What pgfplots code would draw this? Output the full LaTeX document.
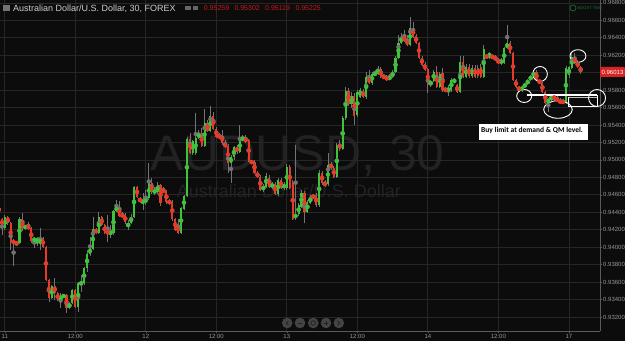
\documentclass[border=0pt]{standalone}
\usepackage{pgfplots}
\pgfplotsset{compat=1.18}
\usepackage{pgfplotstable}
\usepackage{fontspec}
\setmainfont{Liberation Sans}
\newfontfamily\carlito{Carlito}
\definecolor{bg}{RGB}{12,12,12}
\definecolor{gridc}{RGB}{38,38,38}
\definecolor{axc}{RGB}{90,90,90}
\definecolor{lab}{RGB}{150,150,150}
\definecolor{up}{RGB}{62,196,58}
\definecolor{dn}{RGB}{232,58,38}
\definecolor{wick}{RGB}{115,115,115}
\definecolor{wm}{RGB}{34,34,34}
\definecolor{ttl}{RGB}{205,205,205}
\definecolor{ohlc}{RGB}{205,25,25}
\definecolor{pricebox}{RGB}{215,35,35}
\definecolor{btn}{RGB}{68,68,68}
\definecolor{btnin}{RGB}{35,35,35}
\definecolor{boost}{RGB}{30,120,60}

\pgfplotstableread{
k o h l c
-2 0.94541 0.94564 0.94300 0.94323
-1 0.94323 0.94335 0.94140 0.94243
0 0.94220 0.94369 0.94197 0.94346
1 0.94346 0.94357 0.94254 0.94277
2 0.94277 0.94289 0.93968 0.94060
3 0.94071 0.94094 0.93784 0.94048
4 0.94060 0.94071 0.94014 0.94037
5 0.94048 0.94346 0.94037 0.94323
6 0.94323 0.94392 0.94186 0.94209
7 0.94220 0.94254 0.94209 0.94243
8 0.94243 0.94289 0.94197 0.94220
9 0.94220 0.94231 0.94048 0.94071
10 0.94071 0.94117 0.93991 0.94105
11 0.94037 0.94117 0.94014 0.94105
12 0.94037 0.94220 0.93968 0.94105
13 0.94105 0.94117 0.93991 0.94002
14 0.94002 0.94014 0.93613 0.93624
15 0.93624 0.93635 0.93372 0.93418
16 0.93418 0.93567 0.93406 0.93555
17 0.93555 0.93647 0.93395 0.93475
18 0.93475 0.93486 0.93383 0.93395
19 0.93395 0.93475 0.93303 0.93441
20 0.93429 0.93464 0.93418 0.93452
21 0.93452 0.93464 0.93246 0.93303
22 0.93303 0.93372 0.93292 0.93360
23 0.93360 0.93521 0.93349 0.93509
24 0.93509 0.93521 0.93303 0.93315
25 0.93315 0.93601 0.93257 0.93590
26 0.93578 0.93681 0.93486 0.93601
27 0.93590 0.93773 0.93567 0.93762
28 0.93762 0.93968 0.93716 0.93922
29 0.93922 0.94117 0.93899 0.93991
30 0.93979 0.94346 0.93968 0.94209
31 0.94209 0.94220 0.94151 0.94163
32 0.94163 0.94403 0.94151 0.94346
33 0.94346 0.94357 0.94243 0.94254
34 0.94254 0.94266 0.94151 0.94163
35 0.94174 0.94369 0.94060 0.94163
36 0.94163 0.94254 0.94105 0.94163
37 0.94163 0.94426 0.94140 0.94415
38 0.94415 0.94541 0.94403 0.94461
39 0.94461 0.94529 0.94346 0.94357
40 0.94369 0.94403 0.94335 0.94357
41 0.94369 0.94392 0.94266 0.94289
42 0.94231 0.94312 0.94197 0.94277
43 0.94277 0.94380 0.94266 0.94346
44 0.94346 0.94701 0.94335 0.94690
45 0.94690 0.94701 0.94564 0.94575
46 0.94564 0.94575 0.94506 0.94518
47 0.94518 0.94621 0.94426 0.94529
48 0.94529 0.94655 0.94483 0.94541
49 0.94564 0.94965 0.94541 0.94736
50 0.94736 0.94793 0.94610 0.94632
51 0.94621 0.94690 0.94598 0.94655
52 0.94632 0.94747 0.94610 0.94713
53 0.94713 0.94724 0.94472 0.94506
54 0.94655 0.94690 0.94621 0.94632
55 0.94644 0.94655 0.94495 0.94518
56 0.94529 0.94552 0.94483 0.94506
57 0.94518 0.94541 0.94300 0.94323
58 0.94323 0.94335 0.94186 0.94197
59 0.94254 0.94323 0.94151 0.94163
60 0.94163 0.94461 0.94151 0.94449
61 0.94438 0.94598 0.94426 0.94587
62 0.94587 0.95263 0.94575 0.95240
63 0.95240 0.95309 0.95068 0.95080
64 0.95080 0.95228 0.95057 0.95217
65 0.95080 0.95538 0.95057 0.95251
66 0.95251 0.95343 0.95240 0.95309
67 0.95309 0.95366 0.95148 0.95160
68 0.95160 0.95584 0.95148 0.95423
69 0.95423 0.95458 0.95320 0.95332
70 0.95332 0.95618 0.95320 0.95503
71 0.95503 0.95549 0.95343 0.95355
72 0.95355 0.95377 0.95251 0.95263
73 0.95286 0.95309 0.95240 0.95251
74 0.95286 0.95343 0.95171 0.95194
75 0.95194 0.95228 0.95137 0.95148
76 0.95160 0.95183 0.94850 0.94965
77 0.94965 0.95057 0.94736 0.95034
78 0.95034 0.95160 0.94999 0.95148
79 0.95148 0.95171 0.95068 0.95091
80 0.95091 0.95400 0.95080 0.95240
81 0.95228 0.95286 0.95217 0.95251
82 0.95251 0.95286 0.95194 0.95206
83 0.95228 0.95240 0.94976 0.94988
84 0.94988 0.94999 0.94953 0.94965
85 0.94976 0.94999 0.94839 0.94850
86 0.94850 0.94873 0.94793 0.94804
87 0.94804 0.94827 0.94644 0.94655
88 0.94655 0.94724 0.94632 0.94701
89 0.94690 0.94850 0.94678 0.94816
90 0.94793 0.94827 0.94678 0.94690
91 0.94690 0.94747 0.94667 0.94724
92 0.94724 0.94747 0.94598 0.94610
93 0.94610 0.94793 0.94587 0.94770
94 0.94770 0.94793 0.94667 0.94678
95 0.94678 0.94747 0.94655 0.94724
96 0.94678 0.94953 0.94655 0.94919
97 0.94919 0.94942 0.94667 0.94678
98 0.94747 0.94770 0.94312 0.94323
99 0.94335 0.95171 0.94312 0.94380
100 0.94380 0.94506 0.94357 0.94483
101 0.94461 0.94655 0.94449 0.94621
102 0.94621 0.94644 0.94277 0.94403
103 0.94403 0.94541 0.94392 0.94518
104 0.94506 0.94598 0.94495 0.94575
105 0.94587 0.94610 0.94552 0.94575
106 0.94598 0.94621 0.94461 0.94483
107 0.94483 0.94885 0.94461 0.94850
108 0.94850 0.94873 0.94713 0.94736
109 0.94736 0.94770 0.94690 0.94713
110 0.94724 0.95080 0.94701 0.94942
111 0.94953 0.94976 0.94885 0.94908
112 0.94908 0.94930 0.94793 0.94804
113 0.94804 0.95194 0.94793 0.95171
114 0.95183 0.95228 0.95102 0.95125
115 0.95125 0.95503 0.95114 0.95481
116 0.95481 0.95836 0.95458 0.95790
117 0.95790 0.95824 0.95618 0.95641
118 0.95641 0.95779 0.95595 0.95733
119 0.95733 0.95767 0.95400 0.95503
120 0.95515 0.95802 0.95492 0.95779
121 0.95721 0.95824 0.95710 0.95802
122 0.95790 0.95813 0.95710 0.95721
123 0.95721 0.96008 0.95698 0.95951
124 0.95951 0.96031 0.95870 0.95882
125 0.95882 0.96008 0.95859 0.95985
126 0.95973 0.96031 0.95962 0.95996
127 0.95985 0.96077 0.95973 0.96042
128 0.96042 0.96065 0.95939 0.95951
129 0.95962 0.95985 0.95928 0.95939
130 0.95951 0.95973 0.95905 0.95916
131 0.95928 0.95985 0.95916 0.95951
132 0.95951 0.96031 0.95939 0.96008
133 0.96008 0.96191 0.95996 0.96168
134 0.96168 0.96432 0.96157 0.96340
135 0.96340 0.96455 0.96329 0.96409
136 0.96420 0.96489 0.96352 0.96363
137 0.96375 0.96432 0.96306 0.96317
138 0.96317 0.96638 0.96306 0.96512
139 0.96512 0.96581 0.96397 0.96409
140 0.96420 0.96443 0.96329 0.96340
141 0.96340 0.96352 0.96157 0.96168
142 0.96168 0.96191 0.96077 0.96088
143 0.96100 0.96122 0.96019 0.96031
144 0.96042 0.96054 0.95767 0.95859
145 0.95859 0.95916 0.95836 0.95905
146 0.95905 0.96031 0.95893 0.96008
147 0.96008 0.96077 0.95824 0.95836
148 0.95836 0.96008 0.95824 0.95985
149 0.95996 0.96054 0.95779 0.95802
150 0.95813 0.95836 0.95779 0.95790
151 0.95790 0.95859 0.95733 0.95824
152 0.95802 0.95939 0.95779 0.95916
153 0.95893 0.95939 0.95882 0.95916
154 0.95859 0.95870 0.95767 0.95779
155 0.95779 0.96191 0.95767 0.96122
156 0.96122 0.96191 0.95939 0.95951
157 0.95951 0.96100 0.95939 0.96065
158 0.96065 0.96100 0.95939 0.95962
159 0.95962 0.96088 0.95939 0.96054
160 0.96054 0.96088 0.95939 0.95951
161 0.96054 0.96088 0.95939 0.95962
162 0.96065 0.96100 0.95939 0.95951
163 0.95951 0.96317 0.95939 0.96271
164 0.96191 0.96214 0.96157 0.96180
165 0.96168 0.96237 0.96157 0.96226
166 0.96191 0.96203 0.96157 0.96180
167 0.96180 0.96203 0.96134 0.96145
168 0.96145 0.96168 0.96100 0.96111
169 0.96111 0.96168 0.96088 0.96145
170 0.96111 0.96294 0.96100 0.96283
171 0.96283 0.96547 0.96271 0.96340
172 0.96340 0.96363 0.96214 0.96226
173 0.96226 0.96237 0.95905 0.95916
174 0.95916 0.95928 0.95824 0.95836
175 0.95836 0.95847 0.95779 0.95802
176 0.95802 0.95847 0.95779 0.95836
177 0.95836 0.95882 0.95824 0.95870
178 0.95870 0.95928 0.95859 0.95916
179 0.95916 0.95973 0.95905 0.95962
180 0.95951 0.96031 0.95939 0.96008
181 0.96008 0.96031 0.95905 0.95916
182 0.95916 0.95928 0.95870 0.95882
183 0.95882 0.95893 0.95767 0.95779
184 0.95779 0.95790 0.95641 0.95652
185 0.95652 0.95710 0.95549 0.95698
186 0.95687 0.95744 0.95675 0.95733
187 0.95733 0.95744 0.95687 0.95698
188 0.95710 0.95733 0.95664 0.95675
189 0.95687 0.95710 0.95641 0.95652
190 0.95675 0.95698 0.95641 0.95652
191 0.95652 0.96077 0.95641 0.96054
192 0.95973 0.96077 0.95939 0.96065
193 0.96054 0.96226 0.96042 0.96180
194 0.96180 0.96226 0.96100 0.96111
195 0.96122 0.96145 0.96054 0.96065
196 0.96065 0.96077 0.95985 0.96013
}\candles

\begin{document}
\begin{tikzpicture}[x=1pt,y=1pt]
\useasboundingbox (0,0) rectangle (625,341);
\fill[bg] (0,0) rectangle (625,341);
% watermark
\node[anchor=base, text=wm, font=\fontsize{50}{50}\selectfont, inner sep=0pt] at (297.5,171) {AUDUSD, 30};
\node[anchor=base, text=wm, font=\fontsize{18}{18}\selectfont, inner sep=0pt] at (289,144) {Australian Dollar/U.S. Dollar};

\begin{axis}[
  at={(0pt,10pt)}, anchor=south west,
  scale only axis, width=600pt, height=331pt,
  xmin=-1.634, xmax=202.6, ymin=0.93039, ymax=0.96833,
  clip=false,
  axis x line*=bottom, axis y line*=right,
  axis line style={axc, line width=0.8pt},
  xtick={0,24,48,72,96,120,144,168,192},
  xticklabels={11,12:00,12,12:00,13,12:00,14,12:00,17},
  ytick={0.932,0.934,0.936,0.938,0.940,0.942,0.944,0.946,0.948,0.950,0.952,0.954,0.956,0.958,0.960,0.962,0.964,0.966,0.968},
  yticklabels={0.93200,0.93400,0.93600,0.93800,0.94000,0.94200,0.94400,0.94600,0.94800,0.95000,0.95200,0.95400,0.95600,0.95800,{},0.96200,0.96400,0.96600,0.96800},
  grid=major, major grid style={gridc, line width=0.7pt},
  tick style={axc, line width=0.6pt}, major tick length=2pt, tick align=outside,
  ticklabel style={font=\fontsize{6}{6}\selectfont, text=lab},
  yticklabel style={anchor=west, inner sep=1pt},
  xticklabel style={anchor=north, inner sep=1pt},
]
\addplot[wick, only marks, mark=none, forget plot,
  error bars/.cd, y dir=both, y explicit, error mark=none,
  error bar style={line width=0.7pt}]
  table[x=k, y expr=(\thisrow{h}+\thisrow{l})/2, y error expr=(\thisrow{h}-\thisrow{l})/2] {\candles};
\addplot[up, only marks, mark=none, forget plot,
  error bars/.cd, y dir=both, y explicit, error mark=none,
  error bar style={line width=2.1pt}]
  table[x=k, y expr={\thisrow{c}>=\thisrow{o} ? (\thisrow{o}+\thisrow{c})/2 : nan},
        y error expr={max(abs(\thisrow{c}-\thisrow{o})/2,0.00004)}] {\candles};
\addplot[dn, only marks, mark=none, forget plot,
  error bars/.cd, y dir=both, y explicit, error mark=none,
  error bar style={line width=2.1pt}]
  table[x=k, y expr={\thisrow{c}<\thisrow{o} ? (\thisrow{o}+\thisrow{c})/2 : nan},
        y error expr={max(abs(\thisrow{c}-\thisrow{o})/2,0.00004)}] {\candles};

% annotations
\draw[white, line width=1.4pt] (axis cs:177.6,0.95744) -- (axis cs:201.6,0.95744);
\draw[white!75!black, line width=0.8pt] (axis cs:191.8,0.95717) -- (axis cs:201.6,0.95717);
\draw[white, line width=0.7pt] (axis cs:191.8,0.95717) -- (axis cs:191.8,0.95610) -- (axis cs:201.6,0.95610) -- (axis cs:201.6,0.95744);
\draw[white, line width=0.9pt] (axis cs:176.8,0.95733) ellipse [x radius=7.5pt, y radius=6.5pt];
\draw[white, line width=0.9pt] (axis cs:182.2,0.95985) ellipse [x radius=7.3pt, y radius=7.5pt];
\draw[white, line width=0.9pt] (axis cs:188.3,0.95578) ellipse [x radius=14.3pt, y radius=8.8pt];
\draw[white, line width=0.9pt] (axis cs:201.6,0.95710) ellipse [x radius=8.5pt, y radius=8.5pt];
\draw[white, line width=0.9pt] (axis cs:195.1,0.96191) ellipse [x radius=8pt, y radius=6.3pt];
\end{axis}

% annotation box
\fill[white] (479,201) rectangle (588,217);
\node[anchor=base west, inner sep=0pt, font=\carlito\bfseries\fontsize{7.5}{7.5}\selectfont, text=black] at (481,208) {Buy limit at demand \& QM level.};

% price label
\fill[pricebox, rounded corners=1pt] (600,264) rectangle (625,274);
\node[text=white, font=\fontsize{6}{6}\selectfont, inner sep=0pt] at (612.5,269) {0.96013};

% title
\fill[black!55] (3,330) rectangle (10,336);
\node[anchor=base west, inner sep=0pt, text=ttl, font=\fontsize{9}{9}\selectfont] at (13,330) {Australian Dollar/U.S. Dollar, 30, FOREX};
\fill[black!60] (185,331) rectangle (190.5,335);
\fill[black!60] (192.5,331) rectangle (198,335);
\foreach \xx/\tt in {203.7/0.95259, 234.3/0.95302, 265/0.95119, 295.3/0.95225}
  \node[anchor=base west, inner sep=0pt, text=ohlc, font=\fontsize{7}{7}\selectfont] at (\xx,330.7) {\tt};

% boost
\draw[boost, line width=0.6pt] (573,333) circle (3);
\node[anchor=west, inner sep=0pt, text=boost, font=\fontsize{4}{4}\selectfont] at (577.5,333) {BOOST TIME};

% navigation buttons
\foreach \bx in {287.2,300,313.2,326,338.8}
  \fill[btn] (\bx,18) circle (5.3);
\draw[btnin, line width=0.8pt] (288.4,15.8) -- (286.2,18) -- (288.4,20.2);
\draw[btnin, line width=0.9pt] (297.6,18) -- (302.4,18);
\draw[btnin, line width=0.8pt] (313.2,18) circle (2.3);
\draw[btnin, line width=0.9pt] (323.6,18) -- (328.4,18) (326,15.6) -- (326,20.4);
\draw[btnin, line width=0.8pt] (337.6,15.8) -- (339.8,18) -- (337.6,20.2);
\end{tikzpicture}
\end{document}
